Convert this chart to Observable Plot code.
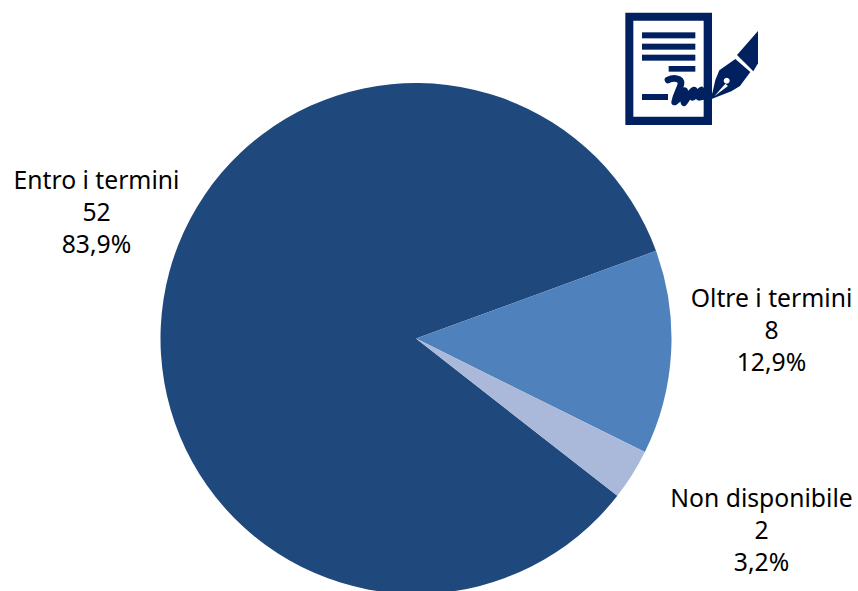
<!DOCTYPE html>
<html>
<head>
<meta charset="utf-8">
<script src="https://cdn.jsdelivr.net/npm/d3@7"></script>
<script src="https://cdn.jsdelivr.net/npm/@observablehq/plot@0.6"></script>
<style>
html,body{margin:0;padding:0;background:#fff;overflow:hidden}
#wrap{position:relative;width:858px;height:591px}
#icon{position:absolute;left:610px;top:0}
svg{display:block}
</style>
</head>
<body>
<div id="wrap">
<div id="chart"></div>
<svg id="icon" width="160" height="135" viewBox="0 0 480 405" role="img" aria-label="Documento firmato">
  <path fill="#002060" fill-rule="evenodd" d="M46 38H306V375H46ZM70 62V350H281V62Z"/>
  <g fill="#002060">
    <rect x="96" y="97" width="160" height="18"/>
    <rect x="96" y="131" width="160" height="18"/>
    <rect x="96" y="164" width="160" height="18"/>
    <rect x="176" y="198" width="80" height="17"/>
    <rect x="96" y="282" width="78" height="18"/>
    <path d="M381 165L444 93V190L430 214Z"/>
    <path fill-rule="evenodd" d="M303 298L316 240L328 211L376 177L421 216L390 258L364 274Z M350 233a9 9 0 1 0 .1 0ZM346 251L313 289L354 258Z"/>
  </g>
  <path fill="none" stroke="#002060" stroke-width="20" stroke-linejoin="round" stroke-linecap="round" d="M174 240C190 232 214 234 213 250C211 266 198 282 194 306C206 300 216 282 224 272C226 286 218 304 222 308C232 296 240 276 252 270C256 272 244 286 248 292C256 288 264 276 274 270L268 292L300 286"/>
</svg>
</div>
<script>
const categories = ["Entro i termini", "Oltre i termini", "Non disponibile"];
const counts = [52, 8, 2];
const percentLabels = ["83,9%", "12,9%", "3,2%"];
const sliceColors = ["#1f497d", "#4f81bd", "#aab9d9"];

const width = 858, height = 591;
const cx = 416, cy = 338.5, radius = 255.5;
const startDeg = 128;
const labelAnchors = [[96, 212.5], [771, 330.5], [761, 530.5]];
const fontSize = 24.7, lineGap = 32;

const slices = d3.pie().sort(null).value(d => d.count)
  .startAngle(startDeg * Math.PI / 180)
  .endAngle((startDeg + 360) * Math.PI / 180)(
    categories.map((label, i) => ({label, count: counts[i], pct: percentLabels[i], at: labelAnchors[i]}))
  );

const lines = slices.flatMap(s => [s.data.label, String(s.data.count), s.data.pct].map((text, k) => ({
  text, x: s.data.at[0], y: s.data.at[1] + (k - 1) * lineGap
})));

const chart = Plot.plot({
  width, height,
  margin: 0,
  style: {background: "transparent", overflow: "hidden"},
  x: {domain: [0, width], range: [0, width], axis: null},
  y: {domain: [0, height], range: [0, height], axis: null},
  color: {domain: categories, range: sliceColors},
  marks: [
    Plot.dot(slices, {
      x: () => cx, y: () => cy, fill: d => d.data.label, r: radius,
      render(index, scales, values, dims, context) {
        const arc = d3.arc().innerRadius(0);
        const g = d3.select(context.document.createElementNS("http://www.w3.org/2000/svg", "g"));
        for (const i of index) {
          const s = slices[i];
          const o = Math.abs(scales.x(radius) - scales.x(0));
          g.append("path")
            .attr("transform", `translate(${values.x[i]},${values.y[i]})`)
            .attr("fill", values.fill ? values.fill[i] : scales.color(s.data.label))
            .attr("d", arc({innerRadius: 0, outerRadius: o, startAngle: s.startAngle, endAngle: s.endAngle}));
        }
        return g.node();
      }
    }),
    Plot.text(lines, {
      x: "x", y: "y", text: "text",
      fill: "#000", fontSize, textAnchor: "middle",
      fontFamily: "'Noto Sans', 'Open Sans', sans-serif"
    })
  ]
});
document.getElementById("chart").appendChild(chart);
</script>
</body>
</html>
